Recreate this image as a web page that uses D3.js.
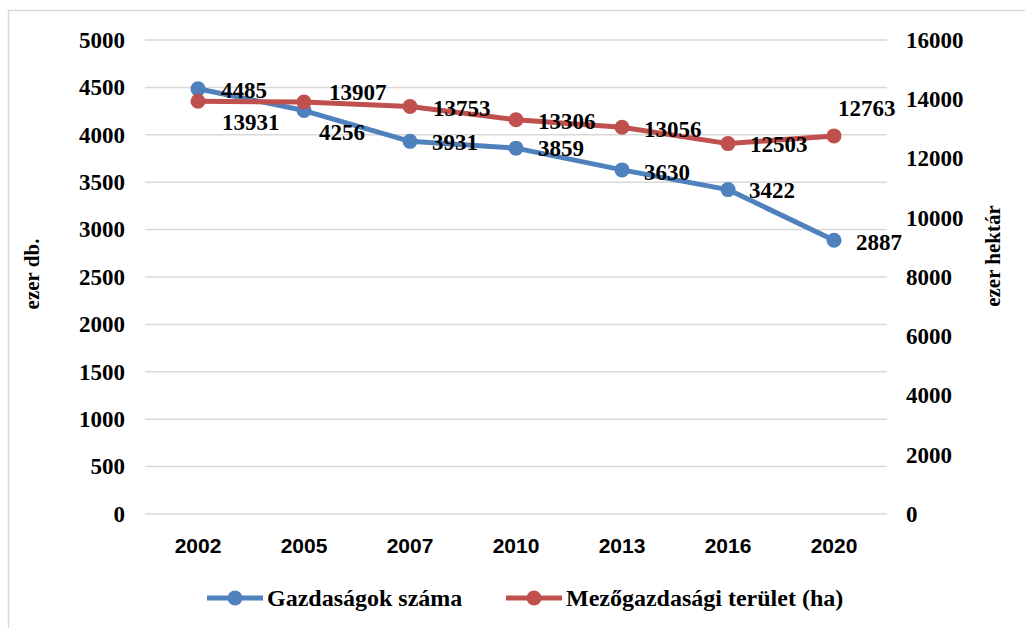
<!DOCTYPE html>
<html>
<head>
<meta charset="utf-8">
<script src="https://cdn.jsdelivr.net/npm/d3@7"></script>
<style>
  body { margin: 0; background: #fff; }
  svg { display: block; }
</style>
</head>
<body>
<svg id="chart" width="1025" height="628"></svg>
<script>
// data
const years = ["2002", "2005", "2007", "2010", "2013", "2016", "2020"];
const farms = [4485, 4256, 3931, 3859, 3630, 3422, 2887];        // ezer db.
const area = [13931, 13907, 13753, 13306, 13056, 12503, 12763];  // ezer hektár
const leftTicks = [0, 500, 1000, 1500, 2000, 2500, 3000, 3500, 4000, 4500, 5000];
const rightTicks = [0, 2000, 4000, 6000, 8000, 10000, 12000, 14000, 16000];
const seriesNames = ["Gazdaságok száma", "Mezőgazdasági terület (ha)"];

// label placement (layout only): [dx, dy] from the point
const farmLabelOff = [[23, 1], [15, 21], [22, 1], [22, 0], [22, 2], [21, 0], [22, 2]];
const areaLabelOff = [[24, 21], [25, -10], [23, 1], [22, 1], [22, 2], [22, 0], [4, -28]];

const blue = "#4f81bd", red = "#c0504d";
const serif = "'Liberation Serif', 'Times New Roman', serif";
const sans = "'Liberation Sans', Arial, sans-serif";

let chart = d3.select("#chart");

// outer frame
chart.append("rect")
    .attr("x", 8.5).attr("y", 10.5)
    .attr("width", 1030).attr("height", 630)
    .attr("fill", "none").attr("stroke", "#d9d9d9").attr("stroke-width", 1.5);

let xScale = d3.scaleBand().domain(years).range([145, 887]);
let yLeft = d3.scaleLinear().domain([0, 5000]).range([514, 40]);
let yRight = d3.scaleLinear().domain([0, 16000]).range([514, 40]);
let xc = d => xScale(d) + xScale.bandwidth() / 2;

// grid
chart.append("g").selectAll("line")
    .data(leftTicks).enter()
    .append("line")
        .attr("x1", 145).attr("x2", 887)
        .attr("y1", d => yLeft(d)).attr("y2", d => yLeft(d))
        .attr("stroke", "#d9d9d9").attr("stroke-width", 1.5);

// left axis
let leftAxis = chart.append("g")
    .attr("transform", "translate(145,0)")
    .call(d3.axisLeft(yLeft).tickValues(leftTicks).tickFormat(d3.format("d")).tickSize(0).tickPadding(20));
leftAxis.select(".domain").remove();
leftAxis.selectAll("text")
    .attr("font-family", serif).attr("font-weight", "bold")
    .attr("font-size", "23px").attr("fill", "#000");

// right axis
let rightAxis = chart.append("g")
    .attr("transform", "translate(887,0)")
    .call(d3.axisRight(yRight).tickValues(rightTicks).tickFormat(d3.format("d")).tickSize(0).tickPadding(19));
rightAxis.select(".domain").remove();
rightAxis.selectAll("text")
    .attr("font-family", serif).attr("font-weight", "bold")
    .attr("font-size", "23px").attr("fill", "#000");

// x axis
let xAxis = chart.append("g")
    .attr("transform", "translate(0,514)")
    .call(d3.axisBottom(xScale).tickSize(0).tickPadding(24));
xAxis.select(".domain").remove();
xAxis.selectAll("text")
    .attr("font-family", sans).attr("font-weight", "bold")
    .attr("font-size", "21px").attr("fill", "#000");

// axis titles
chart.append("text")
    .text("ezer db.")
    .attr("transform", "translate(39,274) rotate(-90)")
    .attr("text-anchor", "middle")
    .attr("font-family", serif).attr("font-weight", "bold").attr("font-size", "21px");

chart.append("text")
    .text("ezer hektár")
    .attr("transform", "translate(1000,256) rotate(-90)")
    .attr("text-anchor", "middle")
    .attr("font-family", serif).attr("font-weight", "bold").attr("font-size", "21px");

function drawSeries(values, yScale, color, offs) {
    let pts = years.map((y, i) => [xc(y), yScale(values[i])]);
    chart.append("path")
        .attr("d", d3.line()(pts))
        .attr("fill", "none").attr("stroke", color)
        .attr("stroke-width", 5).attr("stroke-linejoin", "round");
    chart.append("g").selectAll("circle")
        .data(pts).enter()
        .append("circle")
            .attr("cx", d => d[0]).attr("cy", d => d[1])
            .attr("r", 7.5).attr("fill", color);
    chart.append("g").selectAll("text")
        .data(values).enter()
        .append("text")
            .text(d => d)
            .attr("x", (d, i) => pts[i][0] + offs[i][0])
            .attr("y", (d, i) => pts[i][1] + offs[i][1])
            .attr("dy", "0.35em")
            .attr("font-family", serif).attr("font-weight", "bold")
            .attr("font-size", "23px").attr("fill", "#000");
}

drawSeries(farms, yLeft, blue, farmLabelOff);
drawSeries(area, yRight, red, areaLabelOff);

// legend
let legend = chart.append("g");
let legendItems = [
    { name: seriesNames[0], color: blue, x: 207 },
    { name: seriesNames[1], color: red, x: 506 }
];
legendItems.forEach(it => {
    legend.append("line")
        .attr("x1", it.x).attr("x2", it.x + 56)
        .attr("y1", 598).attr("y2", 598)
        .attr("stroke", it.color).attr("stroke-width", 5);
    legend.append("circle")
        .attr("cx", it.x + 28).attr("cy", 598).attr("r", 7.5).attr("fill", it.color);
    legend.append("text")
        .text(it.name)
        .attr("x", it.x + 60).attr("y", 598).attr("dy", "0.35em")
        .attr("font-family", serif).attr("font-weight", "bold")
        .attr("font-size", "24px").attr("fill", "#000");
});
</script>
</body>
</html>
